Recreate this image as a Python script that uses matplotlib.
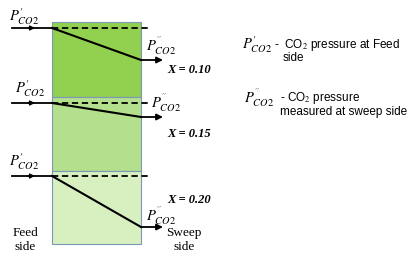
import matplotlib.pyplot as plt
from matplotlib.patches import Rectangle

plt.rcParams['mathtext.fontset'] = 'stix'

# schematic data (per membrane section, top to bottom)
x_labels = ["0.10", "0.15", "0.20"]
sweep_drop = [32, 14, 51]          # drop of sweep-side CO2 pressure line
section_colors = ["#92D050", "#B4DF8C", "#D8EFC0"]

P_FEED = r"$P^{\prime}_{CO2}$"
P_SWEEP = r"$P^{''}_{CO2}$"

fig = plt.figure(figsize=(4.09, 2.59), dpi=100)
ax = fig.add_axes([0, 0, 1, 1])
ax.set_xlim(0, 409)
ax.set_ylim(259, 0)
ax.set_axis_off()

left, right = 52, 141
tops = [22, 97, 171]
bottom = 244
feed_y = [28, 103, 176]
feed_label_xy = [(24, 17), (30, 89), (24, 162)]
xtxt_y = [70, 134, 200]
sweep_label = [(161, 46), (166, 103), (161, 216)]

for i in range(3):
    top = tops[i]
    bot = tops[i + 1] if i < 2 else bottom
    ax.add_patch(Rectangle((left, top), right - left, bot - top,
                           facecolor=section_colors[i], edgecolor="#7C98B8", lw=0.8))

for i in range(3):
    y0 = feed_y[i]
    y1 = y0 + sweep_drop[i]
    # feed arrow with mid arrowhead
    ax.plot([12, left], [y0, y0], color="black", lw=1.3)
    ax.annotate("", xy=(35, y0), xytext=(28, y0),
                arrowprops=dict(arrowstyle="-|>", color="black", lw=1.0,
                                mutation_scale=7, shrinkA=0, shrinkB=0))
    # dashed feed-side level
    ax.plot([left, 151], [y0, y0], color="black", lw=1.3, ls=(0, (3.5, 2)))
    # sloped sweep-side line
    ax.plot([left, right], [y0, y1], color="black", lw=1.5)
    ax.annotate("", xy=(163, y1), xytext=(right, y1),
                arrowprops=dict(arrowstyle="-|>", color="black", lw=1.3,
                                mutation_scale=9, shrinkA=0, shrinkB=0))
    fx, fy = feed_label_xy[i]
    ax.text(fx, fy, P_FEED, fontsize=10.5, ha="center", va="center")
    sx, sy = sweep_label[i]
    ax.text(sx, sy, P_SWEEP, fontsize=10.5, ha="center", va="center")
    ax.text(167, xtxt_y[i], "X = " + x_labels[i], fontsize=9,
            family="Liberation Serif", weight="bold", style="italic",
            ha="left", va="center")

ax.text(25, 240, "Feed\nside", fontsize=9.5, family="Liberation Serif",
        ha="center", va="center", linespacing=1.15)
ax.text(184, 240, "Sweep\nside", fontsize=9.5, family="Liberation Serif",
        ha="center", va="center", linespacing=1.15)

# legend text on the right
ax.text(257, 45, P_FEED, fontsize=10.5, ha="center", va="center")
ax.text(274, 45, "-  CO$_2$ pressure at Feed", fontsize=8.5,
        family="Liberation Sans", ha="left", va="center")
ax.text(283, 58, "side", fontsize=8.5, family="Liberation Sans",
        ha="left", va="center")
ax.text(259, 98, P_SWEEP, fontsize=10.5, ha="center", va="center")
ax.text(280, 98, "- CO$_2$ pressure", fontsize=8.5, family="Liberation Sans",
        ha="left", va="center")
ax.text(280, 112, "measured at sweep side", fontsize=8.5,
        family="Liberation Sans", ha="left", va="center")

fig.savefig("out.png", dpi=100)
